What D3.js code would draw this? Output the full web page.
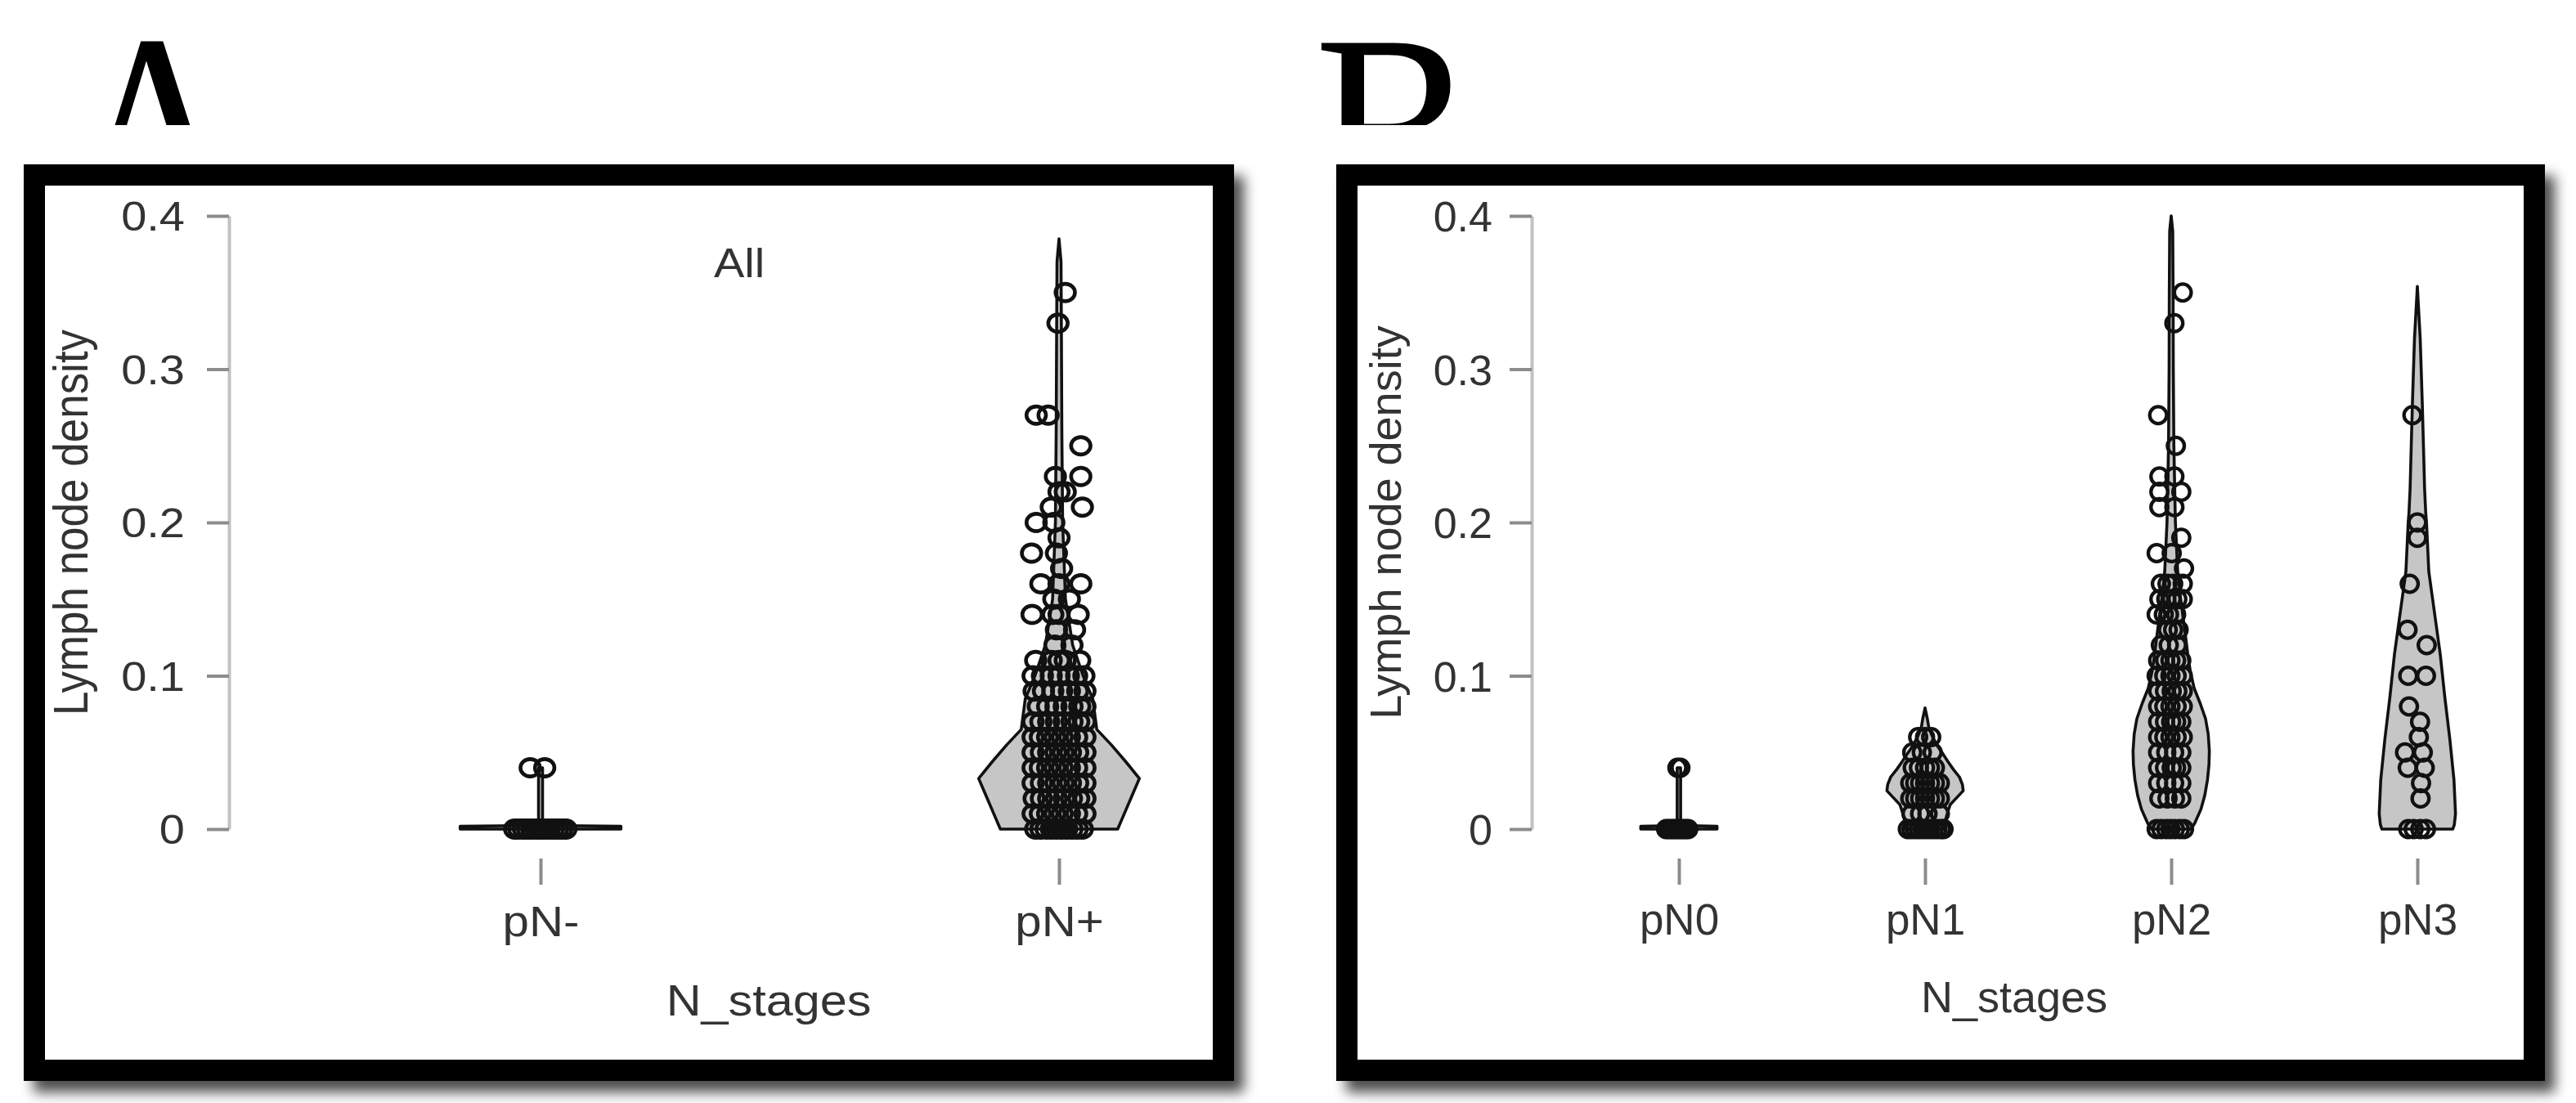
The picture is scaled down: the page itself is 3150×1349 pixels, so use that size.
<!DOCTYPE html>
<html>
<head>
<meta charset="utf-8">
<script src="https://cdn.jsdelivr.net/npm/d3@7"></script>
<style>
  html, body { margin: 0; padding: 0; background: #ffffff; }
  svg { display: block; }
</style>
</head>
<body>
<svg id="chart" width="3150" height="1349"></svg>
<script>
// ---------------- data ----------------
const panelLetters = ["A", "B"];
const categoriesA = ["pN-", "pN+"];
const categoriesB = ["pN0", "pN1", "pN2", "pN3"];
const yTickValues = [0, 0.1, 0.2, 0.3, 0.4];
const yTickLabels = ["0", "0.1", "0.2", "0.3", "0.4"];
const yAxisTitle = "Lymph node density";
const xAxisTitle = "N_stages";
const panelATitle = "All";

// violin outlines: [value, relative half-width (1 = widest)]
const violinPNminus = [[0, 1], [0.0018, 1], [0.0024, 0.025], [0.04, 0.025]];
const violinPNplus = [[0, 0.73], [0.011, 0.82], [0.022, 0.91], [0.033, 1.0], [0.044, 0.83], [0.055, 0.65],
  [0.065, 0.47], [0.085, 0.42], [0.1, 0.3], [0.12, 0.17], [0.15, 0.08], [0.2, 0.045], [0.26, 0.035],
  [0.32, 0.03], [0.37, 0.025], [0.385, 0]];
const violinPN0 = [[0, 1], [0.0018, 1], [0.0024, 0.045], [0.04, 0.045]];
const violinPN1 = [[0, 0.5], [0.005, 0.53], [0.01, 0.58], [0.016, 0.66], [0.021, 0.85], [0.025, 1.0],
  [0.029, 0.98], [0.034, 0.9], [0.039, 0.74], [0.044, 0.6], [0.049, 0.47], [0.054, 0.33], [0.06, 0.2],
  [0.066, 0.1], [0.072, 0.06], [0.079, 0]];
const violinPN2 = [[0, 0.52], [0.004, 0.62], [0.013, 0.78], [0.022, 0.88], [0.032, 0.95], [0.042, 0.99],
  [0.051, 1.0], [0.062, 0.97], [0.072, 0.9], [0.082, 0.76], [0.092, 0.6], [0.103, 0.5], [0.113, 0.44],
  [0.127, 0.37], [0.15, 0.25], [0.168, 0.17], [0.2, 0.11], [0.25, 0.07], [0.3, 0.055], [0.35, 0.05],
  [0.39, 0.04], [0.4, 0]];
const violinPN3 = [[0, 0.93], [0.003, 0.97], [0.01, 1.0], [0.032, 0.96], [0.059, 0.85], [0.086, 0.72],
  [0.114, 0.6], [0.141, 0.45], [0.168, 0.3], [0.2, 0.24], [0.206, 0.22], [0.222, 0.19], [0.25, 0.16],
  [0.277, 0.13], [0.32, 0.075], [0.354, 0]];

// jittered points: [value, [horizontal offsets in category units]]
const pointsPNminus = [
  [0.04, [-0.02, 0.008]],
  [0, [-0.05, -0.042, -0.033, -0.025, -0.017, -0.008, 0, 0.008, 0.017, 0.025, 0.033, 0.041, 0.049]]
];
const pointsPNplus = [
  [0.35, [0.012]], [0.33, [-0.002]], [0.27, [-0.044, -0.021]], [0.25, [0.042]],
  [0.23, [-0.007, 0.042]], [0.22, [0.0, 0.012]], [0.21, [-0.015, 0.045]], [0.20, [-0.044, -0.01]],
  [0.19, [0.0]], [0.18, [-0.053, -0.005]], [0.17, [0.005]], [0.16, [-0.035, 0.0, 0.042]],
  [0.15, [-0.01, 0.02]], [0.14, [-0.052, -0.012, 0.0, 0.037]], [0.13, [-0.005, 0.03]],
  [0.12, [-0.008, 0.025]], [0.11, [-0.045, -0.015, 0.0, 0.012, 0.04]],
  [0.10, [-0.05, -0.032, -0.015, 0.0, 0.018, 0.034, 0.048]],
  [0.09, [-0.048, -0.03, -0.012, 0.005, 0.02, 0.036, 0.05]],
  [0.08, [-0.04, -0.022, -0.006, 0.01, 0.025, 0.04, 0.05]],
  [0.07, [-0.05, -0.035, -0.02, -0.005, 0.01, 0.025, 0.038, 0.05]],
  [0.06, [-0.05, -0.036, -0.022, -0.008, 0.006, 0.02, 0.034, 0.05]],
  [0.05, [-0.05, -0.034, -0.02, -0.006, 0.008, 0.022, 0.036, 0.05]],
  [0.04, [-0.05, -0.036, -0.022, -0.008, 0.006, 0.02, 0.034, 0.05]],
  [0.03, [-0.05, -0.034, -0.02, -0.006, 0.008, 0.022, 0.036, 0.05]],
  [0.02, [-0.048, -0.034, -0.02, -0.005, 0.01, 0.024, 0.038, 0.05]],
  [0.01, [-0.05, -0.036, -0.022, -0.008, 0.006, 0.02, 0.034, 0.05]],
  [0.00, [-0.045, -0.035, -0.025, -0.015, -0.005, 0.005, 0.015, 0.025, 0.035, 0.045]]
];
const pointsPN0 = [
  [0.04, [-0.006, 0.006]],
  [0, [-0.052, -0.042, -0.032, -0.022, -0.012, -0.002, 0.008, 0.018, 0.028, 0.038]]
];
const pointsPN1 = [
  [0.06, [-0.028, 0.0, 0.025]], [0.05, [-0.052, -0.013, 0.031]], [0.04, [-0.05, -0.025, 0.0, 0.02, 0.04]],
  [0.03, [-0.06, -0.04, -0.02, 0.0, 0.02, 0.04, 0.06]], [0.02, [-0.06, -0.04, -0.02, 0.0, 0.02, 0.04, 0.06]],
  [0.01, [-0.055, -0.02, 0.01, 0.06]],
  [0, [-0.07, -0.055, -0.04, -0.025, -0.01, 0.005, 0.02, 0.035, 0.05, 0.065, 0.075]]
];
const pointsPN2 = [
  [0.35, [0.047]], [0.33, [0.013]], [0.27, [-0.053]], [0.25, [0.019]], [0.23, [-0.048, 0.013]],
  [0.22, [-0.048, 0.041]], [0.21, [-0.048, 0.013]], [0.19, [0.041]], [0.18, [-0.059, 0.002]],
  [0.17, [0.052]], [0.16, [-0.042, -0.015, 0.008, 0.047]], [0.15, [-0.048, -0.02, 0.002, 0.025, 0.047]],
  [0.14, [-0.059, -0.03, -0.009, 0.02]], [0.13, [-0.014, 0.008, 0.03]], [0.12, [-0.042, -0.01, 0.024]],
  [0.11, [-0.053, -0.025, -0.003, 0.02, 0.041]], [0.10, [-0.059, -0.028, -0.003, 0.022, 0.047]],
  [0.09, [-0.053, -0.025, 0.002, 0.025, 0.047]], [0.08, [-0.053, -0.028, -0.003, 0.022, 0.047]],
  [0.07, [-0.053, -0.025, 0.0, 0.02, 0.041]], [0.06, [-0.053, -0.028, -0.003, 0.022, 0.047]],
  [0.05, [-0.053, -0.02, 0.012, 0.041]], [0.04, [-0.053, -0.025, 0.002, 0.02, 0.041]],
  [0.03, [-0.053, -0.02, 0.012, 0.041]], [0.02, [-0.048, -0.015, 0.015, 0.041]],
  [0.00, [-0.059, -0.04, -0.02, -0.003, 0.015, 0.035, 0.052]]
];
const pointsPN3 = [
  [0.27, [-0.02]], [0.20, [0.0]], [0.19, [0.0]], [0.16, [-0.031]], [0.13, [-0.04]], [0.12, [0.038]],
  [0.10, [-0.037, 0.035]], [0.08, [-0.034]], [0.07, [0.011]], [0.06, [0.006]], [0.05, [-0.05, 0.022]],
  [0.04, [-0.039, 0.03]], [0.03, [0.015]], [0.02, [0.013]], [0.00, [-0.037, -0.015, 0.012, 0.035]]
];

// ---------------- drawing ----------------
const svg = d3.select("#chart");
const defs = svg.append("defs");
const shadow = defs.append("filter").attr("id", "shadow")
  .attr("x", "-5%").attr("y", "-8%").attr("width", "115%").attr("height", "120%");
shadow.append("feDropShadow").attr("dx", 12).attr("dy", 14).attr("stdDeviation", 8)
  .attr("flood-color", "#000").attr("flood-opacity", 0.7);
defs.append("clipPath").attr("id", "letterClip")
  .append("rect").attr("x", 0).attr("y", 0).attr("width", 3150).attr("height", 153);

svg.append("rect").attr("width", 3150).attr("height", 1349).attr("fill", "#fff");

const SANS = "'Liberation Sans', Arial, Helvetica, sans-serif";
const TEXT_COLOR = "#333";
const MAX_HW = 0.155; // widest violin half-width, in category units

function drawPanel(cfg) {
  const g = svg.append("g");
  const [ox0, oy0, ox1, oy1] = cfg.frame;
  g.append("rect").attr("x", ox0).attr("y", oy0).attr("width", ox1 - ox0).attr("height", oy1 - oy0)
    .attr("fill", "#000").attr("filter", "url(#shadow)");
  g.append("rect").attr("x", ox0 + 26).attr("y", oy0 + 26)
    .attr("width", ox1 - ox0 - 52).attr("height", oy1 - oy0 - 52).attr("fill", "#fff");

  const y = d3.scaleLinear().domain([0, 0.4]).range([1014, 264]);
  const x = d3.scalePoint().domain(cfg.categories).range(cfg.xRange);
  const step = x.step();
  const sx = cfg.stretch;

  // y axis
  const yAx = g.append("g").attr("transform", `translate(${cfg.axisX},0)`)
    .call(d3.axisLeft(y).tickValues(yTickValues).tickFormat((d, i) => yTickLabels[i])
      .tickSize(27).tickSizeOuter(0).tickPadding(0));
  yAx.attr("font-size", null).attr("font-family", null);
  yAx.select(".domain").attr("stroke", "#c2c2c2").attr("stroke-width", 4);
  yAx.selectAll(".tick line").attr("stroke", "#8c8c8c").attr("stroke-width", 4);
  yAx.selectAll(".tick text")
    .attr("x", 0).attr("dy", "0.358em")
    .attr("transform", `translate(${cfg.tickLabelRight - cfg.axisX},0) scale(${sx},1)`)
    .attr("font-family", SANS).attr("font-size", cfg.tickFont).attr("fill", TEXT_COLOR);

  // x axis (ticks only)
  const xAx = g.append("g").attr("transform", "translate(0,1050)")
    .call(d3.axisBottom(x).tickSize(32).tickSizeOuter(0));
  xAx.attr("font-size", null).attr("font-family", null);
  xAx.select(".domain").remove();
  xAx.selectAll(".tick line").attr("stroke", "#8c8c8c").attr("stroke-width", 4);
  xAx.selectAll(".tick text")
    .attr("y", 0).attr("dy", null)
    .attr("transform", `translate(0,${cfg.xLabelBaseline - 1050}) scale(${sx},1)`)
    .attr("font-family", SANS).attr("font-size", cfg.labelFont).attr("fill", TEXT_COLOR);

  // axis titles
  g.append("text")
    .attr("transform", `translate(${cfg.yTitleX},639) scale(${sx},1) rotate(-90)`)
    .attr("y", 0.253 * cfg.titleFont)
    .attr("text-anchor", "middle").attr("font-family", SANS).attr("font-size", cfg.titleFont)
    .attr("fill", TEXT_COLOR).text(yAxisTitle);
  g.append("text")
    .attr("transform", `translate(${cfg.xTitleX},${cfg.xTitleBaseline}) scale(${sx},1)`)
    .attr("text-anchor", "middle").attr("font-family", SANS).attr("font-size", cfg.titleFont)
    .attr("fill", TEXT_COLOR).text(xAxisTitle);

  if (cfg.title) {
    g.append("text")
      .attr("transform", `translate(${cfg.title.x},${cfg.title.y}) scale(${sx},1)`)
      .attr("text-anchor", "middle").attr("font-family", SANS).attr("font-size", cfg.tickFont)
      .attr("fill", TEXT_COLOR).text(cfg.title.text);
  }

  // violins + points
  cfg.groups.forEach(grp => {
    const cx = x(grp.category);
    const area = d3.area().curve(d3.curveLinear)
      .y(d => y(d[0]))
      .x0(d => cx - d[1] * MAX_HW * step)
      .x1(d => cx + d[1] * MAX_HW * step);
    g.append("path").datum(grp.violin).attr("d", area)
      .attr("fill", "#c6c6c6").attr("stroke", "#111").attr("stroke-width", 3.6)
      .attr("stroke-linejoin", "round");

    const pts = [];
    grp.points.forEach(([v, offs]) => offs.forEach(o => pts.push({ v, o })));
    g.append("g").selectAll("ellipse").data(pts).join("ellipse")
      .attr("cx", d => cx + d.o * step)
      .attr("cy", d => y(d.v))
      .attr("rx", cfg.pointR * sx).attr("ry", cfg.pointR)
      .attr("fill", "none").attr("stroke", "#111").attr("stroke-width", cfg.pointStroke);
  });
}

drawPanel({
  frame: [29, 201, 1509, 1322],
  categories: categoriesA,
  xRange: [661, 1295],
  stretch: 1.12,
  axisX: 280, tickLabelRight: 226,
  tickFont: 50, labelFont: 52, titleFont: 53,
  xLabelBaseline: 1145,
  yTitleX: 92, xTitleX: 940, xTitleBaseline: 1242,
  pointR: 10.6, pointStroke: 4.6,
  title: { text: panelATitle, x: 904, y: 339 },
  groups: [
    { category: "pN-", violin: violinPNminus, points: pointsPNminus },
    { category: "pN+", violin: violinPNplus, points: pointsPNplus }
  ]
});

drawPanel({
  frame: [1634, 201, 3112, 1322],
  categories: categoriesB,
  xRange: [2053, 2956],
  stretch: 1.0,
  axisX: 1873, tickLabelRight: 1825,
  tickFont: 52, labelFont: 53, titleFont: 54,
  xLabelBaseline: 1143,
  yTitleX: 1699, xTitleX: 2463, xTitleBaseline: 1238,
  pointR: 10.3, pointStroke: 4.3,
  title: null,
  groups: [
    { category: "pN0", violin: violinPN0, points: pointsPN0 },
    { category: "pN1", violin: violinPN1, points: pointsPN1 },
    { category: "pN2", violin: violinPN2, points: pointsPN2 },
    { category: "pN3", violin: violinPN3, points: pointsPN3 }
  ]
});

// panel letters (only their upper part is visible in the original)
const letterG = svg.append("g").attr("clip-path", "url(#letterClip)");
[[panelLetters[0], 188], [panelLetters[1], 1705]].forEach(([t, lx]) => {
  letterG.append("text")
    .attr("transform", `translate(${lx},275) scale(0.86,1)`)
    .attr("text-anchor", "middle")
    .attr("font-family", "'Liberation Serif', 'Times New Roman', serif")
    .attr("font-size", 340).attr("fill", "#000")
    .text(t);
});
</script>
</body>
</html>
